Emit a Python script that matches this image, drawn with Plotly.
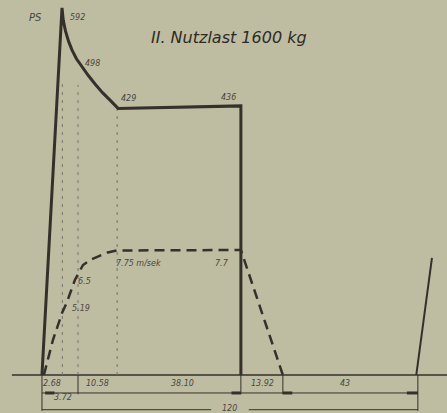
import plotly.graph_objects as go

# ---- data (time in seconds, power in PS, speed in m/s) ----
power_t = [0, 6.4, 6.8, 7.5, 8.5, 9.6, 11.0, 12.8, 14.8, 17.0, 19.4, 21.8, 23.2, 24.3, 63.5, 63.5]
power_ps = [0, 592, 572, 555, 538, 524, 510, 497, 483, 469, 455, 443, 435, 430, 434, 0]
next_t = [119.5, 124.5]
next_ps = [0, 189]

speed_t = [0.6, 3.5, 6.4, 8.0, 10.5, 13.1, 15.5, 18.5, 21.0, 23.9, 63.5, 76.9]
speed_v = [0, 2.17, 3.84, 4.53, 5.89, 6.82, 7.15, 7.42, 7.6, 7.72, 7.75, 0]

guide_t = [6.5, 11.5, 24.0]
guide_ps = [476, 468, 429]

seg_bounds = [0, 11.5, 63.5, 76.9, 120]
seg_labels = ["2.68", "10.58", "38.10", "13.92", "43"]
seg_label_t = [3.2, 17.6, 45.0, 70.5, 96.7]
sub_label = "3.72"
total_label = "120"

peak_labels = ["592", "498", "429", "436"]
speed_labels = ["5.19", "6.5", "7.75 m/sek", "7.7"]

BG = "#bebda1"
INK = "#35302b"
TXT = "#4a463f"

# axis ranges chosen so that the layout matches the drawing
x_range = [-13.4, 129.3]
y_range = [-61.3, 604.8]
v_range = [-2.356, 23.25]

fig = go.Figure()

# baseline
fig.add_trace(go.Scatter(x=[-9.6, 129.3], y=[0, 0], mode="lines",
                         line=dict(color=INK, width=1.3), hoverinfo="skip"))

# guide dashed verticals
for gt, gp in zip(guide_t, guide_ps):
    fig.add_trace(go.Scatter(x=[gt, gt], y=[0, gp], mode="lines",
                             line=dict(color="#77736a", width=1, dash="3px,5px"),
                             hoverinfo="skip"))

# power curve
fig.add_trace(go.Scatter(x=power_t, y=power_ps, mode="lines",
                         line=dict(color=INK, width=3), hoverinfo="skip"))
fig.add_trace(go.Scatter(x=next_t, y=next_ps, mode="lines",
                         line=dict(color=INK, width=2), hoverinfo="skip"))

# speed curve
fig.add_trace(go.Scatter(x=speed_t, y=speed_v, mode="lines", yaxis="y2",
                         line=dict(color=INK, width=2.5, dash="10px,6px"),
                         hoverinfo="skip"))

# dimension lines
row1 = -29
row2 = -56
fig.add_trace(go.Scatter(x=[seg_bounds[0], seg_bounds[-1]], y=[row1, row1], mode="lines",
                         line=dict(color=INK, width=1), hoverinfo="skip"))
fig.add_trace(go.Scatter(x=[seg_bounds[0], 54, None, 66, seg_bounds[-1]],
                         y=[row2, row2, None, row2, row2], mode="lines",
                         line=dict(color=INK, width=1), hoverinfo="skip"))
for i, b in enumerate(seg_bounds):
    low = row2 - 2 if i in (0, len(seg_bounds) - 1) else row1 - 2
    fig.add_trace(go.Scatter(x=[b, b], y=[0, low], mode="lines",
                             line=dict(color=INK, width=1), hoverinfo="skip"))
# arrow marks on row 1
for b0, b1 in [(1, 4), (60.5, 63.5), (76.9, 79.9), (116.5, 120)]:
    fig.add_trace(go.Scatter(x=[b0, b1], y=[row1, row1], mode="lines",
                             line=dict(color=INK, width=3), hoverinfo="skip"))

ann = []
def label(x, y, text, size=8, yref="y", color=TXT):
    ann.append(dict(x=x, y=y, xref="x", yref=yref, text="<i>" + text + "</i>",
                    showarrow=False, font=dict(size=size, color=color,
                                               family="DejaVu Sans")))

for t, s in zip(seg_label_t, seg_labels):
    label(t, -13, s)
label(6.7, -37, sub_label)
label(60, -54, total_label)

label(-2.2, 577, "PS", size=10)
label(11.2, 577, peak_labels[0])
label(16.2, 502, peak_labels[1])
label(27.5, 446, peak_labels[2])
label(59.4, 447, peak_labels[3])

label(12.6, 4.1, speed_labels[0], yref="y2")
label(13.5, 5.8, speed_labels[1], yref="y2")
label(30.8, 6.9, speed_labels[2], yref="y2")
label(57.5, 6.9, speed_labels[3], yref="y2")

ann.append(dict(x=59.7, y=545, xref="x", yref="y", text="<i>II. Nutzlast 1600 kg</i>",
                showarrow=False, font=dict(size=16, color="#2e2a26", family="DejaVu Sans")))

fig.update_layout(
    width=447, height=413,
    margin=dict(l=0, r=0, t=0, b=0),
    paper_bgcolor=BG, plot_bgcolor=BG,
    showlegend=False,
    annotations=ann,
    xaxis=dict(range=x_range, visible=False, fixedrange=True),
    yaxis=dict(range=y_range, visible=False, fixedrange=True),
    yaxis2=dict(range=v_range, visible=False, overlaying="y", fixedrange=True),
)

fig.write_html("out.html", config={"displayModeBar": False},
               post_script="document.body.style.margin='0';document.body.style.background='%s';" % BG)
